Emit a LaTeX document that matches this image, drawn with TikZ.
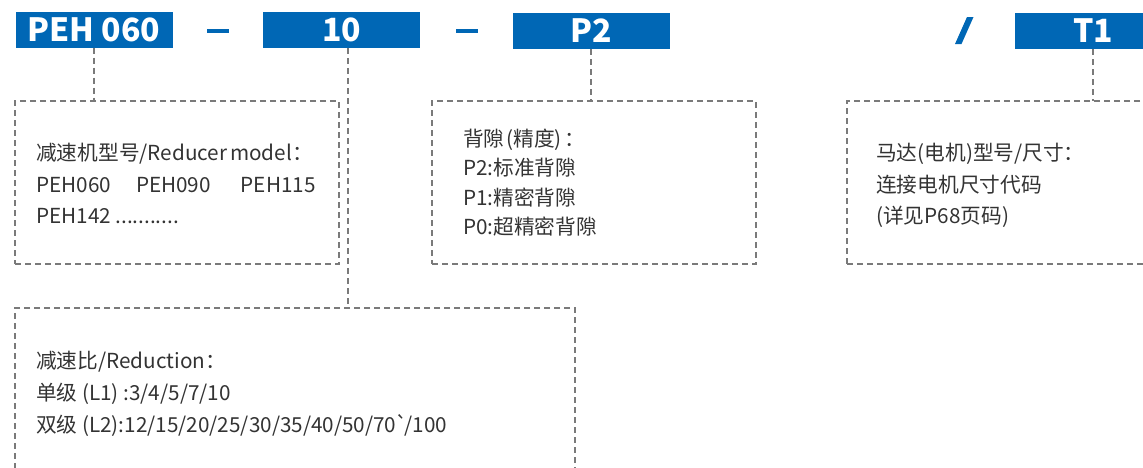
\documentclass[tikz,border=0pt]{standalone}
\usepackage{fontspec}
\setmainfont{Noto Sans CJK SC}
\newfontfamily\plainf{Noto Sans CJK SC}
\usetikzlibrary{calc}
\definecolor{blu}{HTML}{0067B5}
\definecolor{txt}{HTML}{333333}
\definecolor{dsh}{HTML}{7A7A7A}
\begin{document}
\begin{tikzpicture}[x=1pt,y=-1pt,
  code/.style={fill=blu, text=white, minimum width=157pt, minimum height=36pt, inner sep=0pt, outer sep=0pt,
    font=\fontsize{32}{32}\selectfont\bfseries},
  frame/.style={draw=dsh, line width=1.2pt, dash pattern=on 6pt off 4pt, inner sep=0pt, outer sep=0pt, anchor=north west},
  link/.style={draw=dsh, line width=1.2pt, dash pattern=on 6pt off 4pt},
  lbl/.style={anchor=base west, inner sep=0pt, text=txt, font=\fontsize{20.7}{20.7}\selectfont}]
\useasboundingbox (0,0) rectangle (1143,467);

% code boxes
\node[code] (peh) at (94,29.5) {PEH 060};
\node[code] (b10) at (341.5,30) {10};
\node[code] (p2) at (591,31) {P2};
\node[code] (t1) at (1093,31) {T1};

% separators
\fill[blu] (207,29) rectangle (229,33);
\fill[blu] (456,29) rectangle (478,33);
\fill[blu] (955,44) -- (961.5,44) -- (973.5,17) -- (967,17) -- cycle;

% frames
\node[frame, minimum width=324pt, minimum height=163pt] (f1) at (15,101) {};
\node[frame, minimum width=560pt, minimum height=175pt] (f2) at (15,308) {};
\node[frame, minimum width=324pt, minimum height=163pt] (f3) at (432,101) {};
\node[frame, minimum width=340pt, minimum height=163pt] (f4) at (847,101) {};

% connectors
\draw[link] (peh.south) -- (peh.south |- f1.north);
\coordinate (c10) at ($(b10.south)+(6.5,0)$);
\draw[link] (c10) -- (c10 |- f2.north);
\draw[link] (p2.south) -- (p2.south |- f3.north);
\draw[link] (t1.south) -- (t1.south |- f4.north);

% texts frame 1
\node[lbl] (a1) at (36,160) {减速机型号/Reducer\hspace{-1.5pt} model：};
\node[lbl] (a2) at (36,192) {PEH060\hspace{25pt}PEH090\hspace{30pt}PEH115};
\node[lbl] (a3) at (36,223) {PEH142 ...........};

% texts frame 3
\node[lbl] (c1) at (463,146) {背隙\hspace{2pt}(精度)\hspace{3pt}：};
\node[lbl] (c2) at (463,175) {P2:标准背隙};
\node[lbl] (c3) at (463,205) {P1:精密背隙};
\node[lbl] (c4) at (463,234) {P0:超精密背隙};

% texts frame 4
\node[lbl] (d1) at (876,160) {马达(电机)型号/尺寸：};
\node[lbl] (d2) at (876,192) {连接电机尺寸代码};
\node[lbl] (d3) at (876,223) {(详见P68页码)};

% texts frame 2
\node[lbl] (b1) at (36,368) {减速比/Reduction：};
\node[lbl] (b2) at (36,400) {单级 (L1) :3/4/5/7/10};
\node[lbl] (b3) at (36,432) {双级 (L2):12/15/20/25/30/35/40/50/70\kern-1pt{\plainf`}\kern-3.5pt/100};
\end{tikzpicture}
\end{document}
